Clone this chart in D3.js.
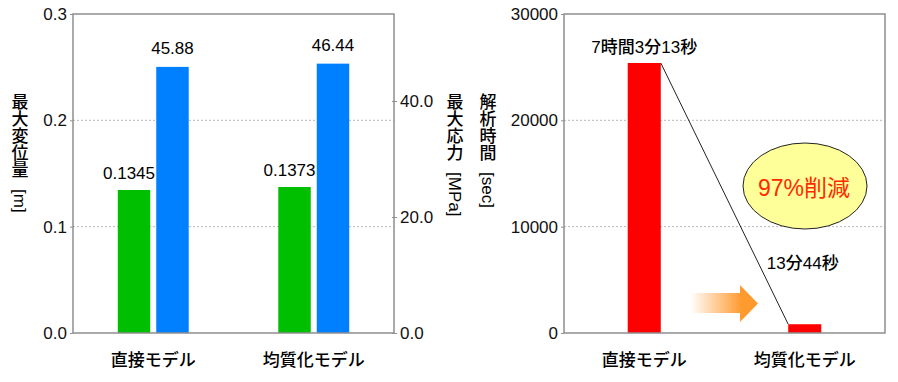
<!DOCTYPE html>
<html><head><meta charset="utf-8">
<script src="https://cdn.jsdelivr.net/npm/d3@7"></script>
<style>
body{margin:0;background:#fff;}
text{font-family:"Liberation Sans","Noto Sans CJK JP",sans-serif;}
.jp{font-family:"Noto Sans CJK JP",sans-serif;}
</style></head>
<body><svg id="c" width="898" height="382"></svg>
<script>
// ---- data ----
const categories = ['直接モデル', '均質化モデル'];
const displacement = [0.1345, 0.1373];          // 最大変位量 [m]
const stress = [45.88, 46.44];                  // 最大応力 [MPa]
const timeSec = [25393, 824];                   // 解析時間 [sec]
const timeLabels = ['7時間3分13秒', '13分44秒'];
const dispTicks = [0, 0.1, 0.2, 0.3];
const stressTicks = [0, 20, 40];
const timeTicks = [0, 10000, 20000, 30000];

const svg = d3.select('#c');
const yTop = 14, yBot = 333;
const frameColor = '#8f8f8f';

// ---------- Left chart ----------
const L = {x0: 73, x1: 394};
const xL = d3.scaleBand().domain(categories).range([L.x0, L.x1]).paddingInner(0.558).paddingOuter(0.279);
const xInner = d3.scaleBand().domain(['disp', 'stress']).range([0, xL.bandwidth()]).paddingInner(0.156).paddingOuter(0);
const yDisp = d3.scaleLinear().domain([0, 0.3]).range([yBot, yTop]);
const yStress = d3.scaleLinear().domain([0, 55]).range([yBot, yTop]);

const gl = svg.append('g');
gl.selectAll('line.grid').data(dispTicks.filter(d => d > 0 && d < 0.3)).join('line')
  .attr('x1', L.x0).attr('x2', L.x1).attr('y1', d => yDisp(d)).attr('y2', d => yDisp(d))
  .attr('stroke', '#b8b8b8').attr('stroke-width', 1).attr('stroke-dasharray', '2,2');
categories.forEach((c, i) => {
  gl.append('rect').attr('x', xL(c) + xInner('disp')).attr('width', xInner.bandwidth())
    .attr('y', yDisp(displacement[i])).attr('height', yBot - yDisp(displacement[i])).attr('fill', '#00bf00');
  gl.append('rect').attr('x', xL(c) + xInner('stress')).attr('width', xInner.bandwidth())
    .attr('y', yStress(stress[i])).attr('height', yBot - yStress(stress[i])).attr('fill', '#0080ff');
  gl.append('text').attr('x', xL(c) + xInner('disp') + xInner.bandwidth() / 2 - 5)
    .attr('y', yDisp(displacement[i]) - 11).attr('text-anchor', 'middle').attr('font-size', 17)
    .text(displacement[i].toFixed(4));
  gl.append('text').attr('x', xL(c) + xInner('stress') + xInner.bandwidth() / 2)
    .attr('y', yStress(stress[i]) - 13).attr('text-anchor', 'middle').attr('font-size', 17)
    .text(stress[i].toFixed(2));
});
gl.append('rect').attr('x', L.x0).attr('y', yTop).attr('width', L.x1 - L.x0).attr('height', yBot - yTop)
  .attr('fill', 'none').attr('stroke', frameColor).attr('stroke-width', 1.5);
const axL = gl.append('g').attr('transform', `translate(${L.x0},0)`)
  .call(d3.axisLeft(yDisp).tickValues(dispTicks).tickFormat(d3.format('.1f')).tickSize(3).tickPadding(3));
axL.select('.domain').remove();
axL.selectAll('line').attr('stroke', frameColor);
axL.selectAll('text').attr('font-size', 17).attr('fill', '#111').attr('font-family', '"Liberation Sans",sans-serif');
const axR = gl.append('g').attr('transform', `translate(${L.x1},0)`)
  .call(d3.axisRight(yStress).tickValues(stressTicks).tickFormat(d3.format('.1f')).tickSize(3).tickPadding(3));
axR.select('.domain').remove();
axR.selectAll('line').attr('stroke', frameColor).attr('x1', -2);
axR.selectAll('text').attr('font-size', 17).attr('fill', '#111').attr('font-family', '"Liberation Sans",sans-serif');
categories.forEach(c => {
  gl.append('text').attr('class', 'jp').attr('x', xL(c) + xL.bandwidth() / 2).attr('y', 366)
    .attr('text-anchor', 'middle').attr('font-size', 17).attr('font-weight', 500).text(c);
});

// vertical titles: upright kanji (vertical writing), unit rotated
function vtitle(x, y, kanji, unit) {
  const g = svg.append('g');
  g.append('text').attr('class', 'jp').attr('x', x).attr('y', y)
    .attr('font-size', 17).attr('font-weight', 500).style('writing-mode', 'vertical-rl').text(kanji);
  const uy = y + kanji.length * 17 + 11;
  g.append('text').attr('transform', `translate(${x - 6},${uy}) rotate(90)`)
    .attr('font-size', 17).attr('font-family', '"Liberation Sans",sans-serif').text(unit);
}
vtitle(20, 93, '最大変位量', '[m]');
vtitle(455, 93, '最大応力', '[MPa]');
vtitle(488, 93, '解析時間', '[sec]');

// ---------- Right chart ----------
const R = {x0: 564, x1: 885};
const xR = d3.scaleBand().domain(categories).range([R.x0, R.x1]).paddingInner(0.794).paddingOuter(0.397);
const yTime = d3.scaleLinear().domain([0, 30000]).range([yBot, yTop]);
const gr = svg.append('g');
gr.selectAll('line.grid').data(timeTicks.filter(d => d > 0 && d < 30000)).join('line')
  .attr('x1', R.x0).attr('x2', R.x1).attr('y1', d => yTime(d)).attr('y2', d => yTime(d))
  .attr('stroke', '#b8b8b8').attr('stroke-width', 1).attr('stroke-dasharray', '2,2');

const defs = svg.append('defs');
const grad = defs.append('linearGradient').attr('id', 'ag').attr('gradientUnits', 'userSpaceOnUse')
  .attr('x1', 690).attr('x2', 742).attr('y1', 0).attr('y2', 0);
grad.append('stop').attr('offset', 0).attr('stop-color', '#ff9a2e').attr('stop-opacity', 0);
grad.append('stop').attr('offset', 1).attr('stop-color', '#ff9a2e').attr('stop-opacity', 1);
gr.append('path').attr('d', 'M690,293 L740,293 L740,285 L758,303.5 L740,322 L740,313 L690,313 Z')
  .attr('fill', 'url(#ag)');

categories.forEach((c, i) => {
  gr.append('rect').attr('x', xR(c)).attr('width', xR.bandwidth())
    .attr('y', yTime(timeSec[i])).attr('height', yBot - yTime(timeSec[i])).attr('fill', '#ff0000');
});
gr.append('line').attr('x1', xR(categories[0]) + xR.bandwidth()).attr('y1', yTime(timeSec[0]))
  .attr('x2', xR(categories[1])).attr('y2', yTime(timeSec[1])).attr('stroke', '#222').attr('stroke-width', 1);
gr.append('text').attr('x', xR(categories[0]) + xR.bandwidth() / 2).attr('y', yTime(timeSec[0]) - 10)
  .attr('text-anchor', 'middle').attr('font-size', 17).attr('font-weight', 500).text(timeLabels[0]);
gr.append('text').attr('x', xR(categories[1]) + xR.bandwidth() / 2 - 2).attr('y', 269)
  .attr('text-anchor', 'middle').attr('font-size', 17).attr('font-weight', 500).text(timeLabels[1]);
gr.append('rect').attr('x', R.x0).attr('y', yTop).attr('width', R.x1 - R.x0).attr('height', yBot - yTop)
  .attr('fill', 'none').attr('stroke', frameColor).attr('stroke-width', 1.5);
const axT = gr.append('g').attr('transform', `translate(${R.x0},0)`)
  .call(d3.axisLeft(yTime).tickValues(timeTicks).tickFormat(d3.format('d')).tickSize(3).tickPadding(3));
axT.select('.domain').remove();
axT.selectAll('line').attr('stroke', frameColor);
axT.selectAll('text').attr('font-size', 17).attr('fill', '#111').attr('font-family', '"Liberation Sans",sans-serif');
categories.forEach(c => {
  gr.append('text').attr('class', 'jp').attr('x', xR(c) + xR.bandwidth() / 2).attr('y', 366)
    .attr('text-anchor', 'middle').attr('font-size', 17).attr('font-weight', 500).text(c);
});
gr.append('ellipse').attr('cx', 805).attr('cy', 186).attr('rx', 62).attr('ry', 43)
  .attr('fill', '#ffff99').attr('stroke', '#222').attr('stroke-width', 1);
gr.append('text').attr('x', 804).attr('y', 196).attr('text-anchor', 'middle').attr('font-size', 23)
  .attr('fill', '#ff2a00').text('97%削減');
</script></body></html>
